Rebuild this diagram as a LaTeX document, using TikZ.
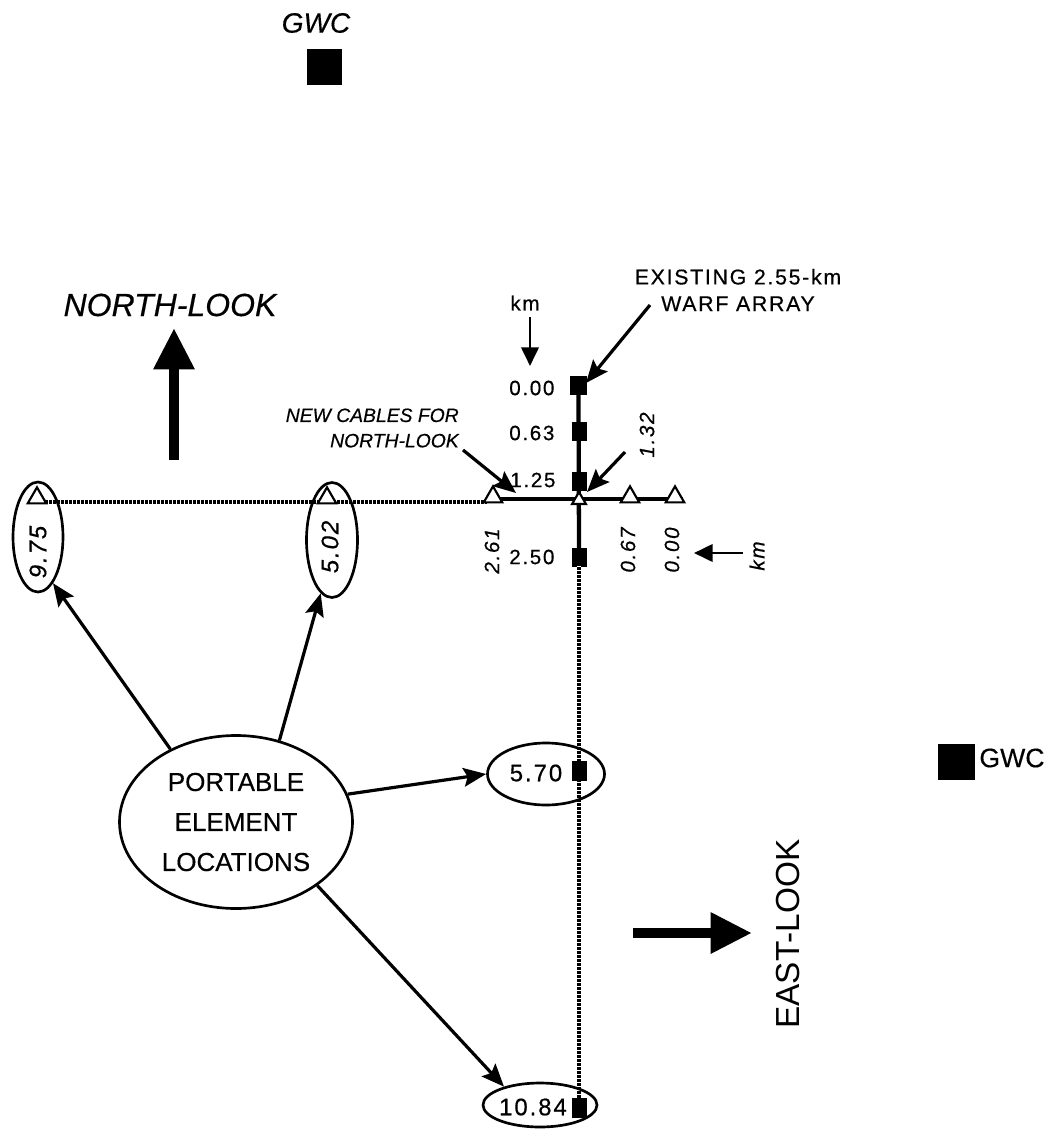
\documentclass[tikz,border=0pt]{standalone}
\usepackage{fontspec}
\setmainfont{Liberation Sans}
\newfontfamily\spaced[LetterSpace=8,FakeBold=0.5]{Liberation Sans}
\newfontfamily\heavy[FakeBold=0.4]{Liberation Sans}
\usetikzlibrary{arrows.meta,shapes.geometric}
\begin{document}
\begin{tikzpicture}[x=0.75pt,y=-0.75pt,
  sq/.style={fill=black,draw=none,inner sep=0pt,minimum width=11.25pt,minimum height=14.25pt},
  tri/.style={regular polygon,regular polygon sides=3,draw,line width=1.6pt,fill=white,inner sep=0pt,minimum size=16pt},
  ell/.style={ellipse,draw,line width=2pt,inner sep=0pt},
  conn/.style={line width=2.4pt,-{Stealth[length=17pt,width=14pt,inset=3pt]}},
  rope/.style={line width=3.4pt,
    postaction={draw=white,line width=3.6pt,dash pattern=on 0.8pt off 2.2pt}},
  warf/.style={line width=3.2pt},
  num/.style={font=\spaced\fontsize{15.5}{18}\selectfont,inner sep=0pt},
  inum/.style={font=\spaced\itshape\fontsize{15.5}{18}\selectfont,inner sep=0pt},
  bignum/.style={font=\spaced\fontsize{18}{21}\selectfont,inner sep=0pt},
  ibignum/.style={font=\spaced\itshape\fontsize{18}{21}\selectfont,inner sep=0pt},
  small/.style={line width=2.1pt,-{Triangle[length=14pt,width=13pt]}},
]
\useasboundingbox (0,0) rectangle (1054,1135);

% GWC top and right
\node[font=\heavy\itshape\fontsize{21}{24}\selectfont,inner sep=0pt] (gwc1t) at (316,23) {GWC};
\node[sq,minimum width=26.25pt,minimum height=27pt] (gwc1) at (324.5,67) {};
\node[sq,minimum width=27.75pt,minimum height=27pt] (gwc2) at (956,762) {};
\node[font=\heavy\fontsize{20}{24}\selectfont,inner sep=0pt] (gwc2t) at (1012,758) {GWC};

% NORTH-LOOK
\node[font=\heavy\itshape\fontsize{24}{28}\selectfont,inner sep=0pt] (north) at (170,305) {NORTH-LOOK};
\coordinate (nA1) at (174,460);
\coordinate (nA2) at (174,328);
\draw[line width=7.5pt,-{Triangle[length=31pt,width=29pt]}] (nA1) -- (nA2);

% EAST-LOOK
\node[font=\fontsize{25}{29}\selectfont,inner sep=0pt,rotate=90] (east) at (788,934) {EAST-LOOK};
\coordinate (eA1) at (633,933);
\coordinate (eA2) at (752,933);
\draw[line width=7.5pt,-{Triangle[length=31pt,width=29pt]}] (eA1) -- (eA2);

% WARF array squares
\node[sq,minimum width=12.75pt,minimum height=14.25pt] (s000) at (578.5,385.5) {};
\node[sq] (s063) at (579,431) {};
\node[sq] (s125) at (579,481) {};
\node[sq] (s250) at (579,557) {};

% ropes
\coordinate (rL) at (40,502);
\coordinate (rR) at (487,502);
\coordinate (vT) at (579,566);
\coordinate (vB) at (579,1098);
\draw[rope] (rL) -- (rR);
\draw[rope] (vT) -- (vB);

\node[sq,minimum height=15pt] (s570) at (579,771) {};
\node[sq,minimum height=15pt] (s1084) at (579,1108) {};

% WARF solid lines
\coordinate (hL) at (487,499);
\coordinate (hR) at (683,499);
\draw[warf] (s000.center) -- (s250.center);
\draw[warf] (hL) -- (hR);

% triangles
\node[tri] (t975) at (37,498) {};
\node[tri] (t502) at (327,498) {};
\node[tri] (t261) at (493,497) {};
\node[tri,minimum size=12pt] (t132) at (579,500) {};
\node[tri] (t067) at (630,497) {};
\node[tri] (t000) at (675,497) {};

% ellipses
\node[ell,minimum width=37.5pt,minimum height=82.5pt] (e975) at (38,537) {};
\node[ell,minimum width=38.25pt,minimum height=86.25pt] (e502) at (332,540) {};
\node[ell,minimum width=87.75pt,minimum height=46.5pt] (e570) at (546,774) {};
\node[ell,minimum width=85.5pt,minimum height=33pt] (e1084) at (540,1105) {};
\node[ell,minimum width=174.75pt,minimum height=129.75pt,align=center,font=\heavy\fontsize{19.5}{30}\selectfont] (portable) at (236,822) {PORTABLE\\ELEMENT\\LOCATIONS};

% ellipse labels
\node[ibignum,rotate=90] (l975) at (38,552) {9.75};
\node[ibignum,rotate=90] (l502) at (330,547) {5.02};
\node[bignum] (l570) at (536,773) {5.70};
\node[bignum] (l1084) at (533,1107) {10.84};

% WARF labels
\node[num] (kmtop) at (525,303) {km};
\node[num,anchor=west] (l000) at (509,388) {0.00};
\node[num,anchor=west] (l063) at (509,433) {0.63};
\node[num,anchor=west] (l125) at (510,480) {1.25};
\node[num,anchor=west] (l250) at (509,557) {2.50};
\node[inum,rotate=90] (l261) at (492,551) {2.61};
\node[inum,rotate=90] (l067) at (628,550) {0.67};
\node[inum,rotate=90] (l000b) at (672,550) {0.00};
\node[inum,rotate=90] (l132) at (647,435) {1.32};
\node[inum,rotate=90] (kmright) at (757,556) {km};

% annotations
\node[align=center,font=\spaced\fontsize{16}{20}\selectfont,inner sep=0pt] (exist) at (738,290) {EXISTING 2.55-km\\WARF ARRAY};
\node[align=right,anchor=east,font=\heavy\itshape\fontsize{14.5}{19}\selectfont,inner sep=0pt] (newc) at (459,428) {NEW CABLES FOR\\NORTH-LOOK};

% small arrows
\coordinate (k1) at (530,317);
\coordinate (k2) at (530,366);
\draw[small] (k1) -- (k2);
\coordinate (k3) at (743,553);
\coordinate (k4) at (694,553);
\draw[small] (k3) -- (k4);
\coordinate (x1) at (650,305);
\coordinate (x2) at (586,383);
\draw[conn] (x1) -- (x2);
\coordinate (n1) at (463,450);
\coordinate (n2) at (516,493);
\draw[conn] (n1) -- (n2);
\coordinate (c1) at (625,452);
\coordinate (c2) at (587,492);
\draw[conn] (c1) -- (c2);

% connectors from portable
\draw[conn] (portable.132) -- (e975.-72);
\draw[conn] (portable.62) -- (e502.-102);
\draw[conn] (portable.14) -- (e570.west);
\draw[conn] (portable.-38) -- (e1084.153);
\end{tikzpicture}
\end{document}
